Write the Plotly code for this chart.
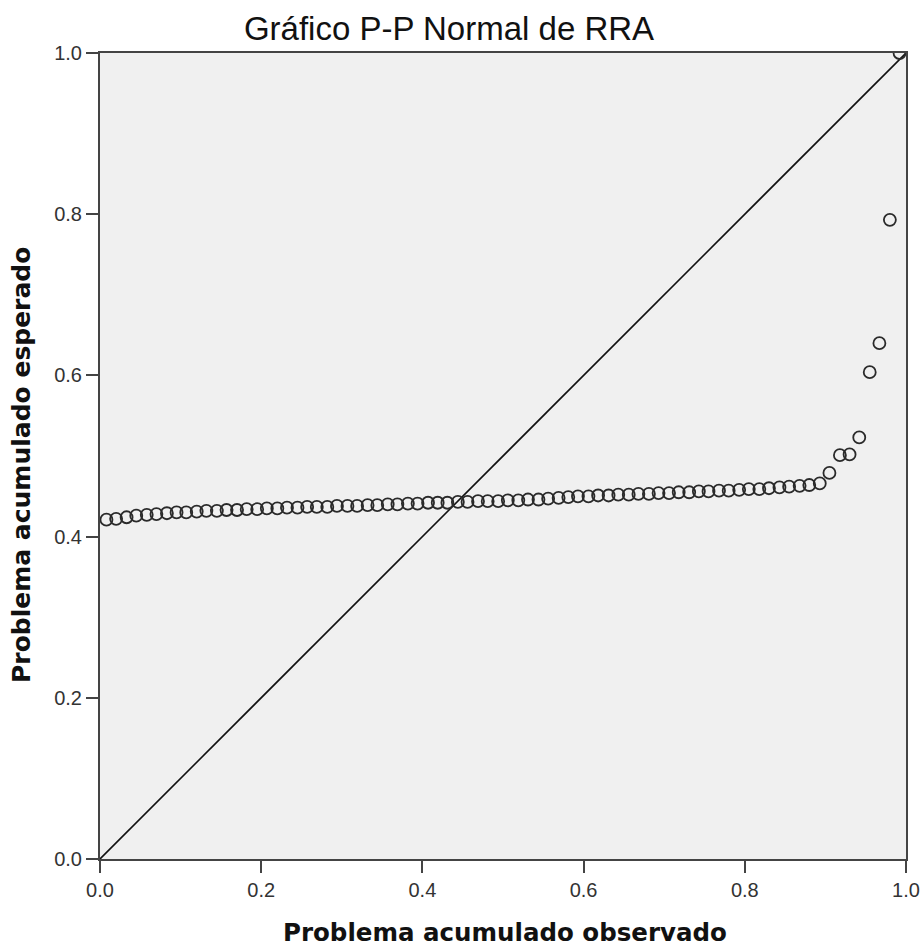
import plotly.graph_objects as go

# Observed cumulative probability (x) and expected cumulative probability (y)
observed = [0.008, 0.020, 0.033, 0.045, 0.058, 0.070, 0.083, 0.095, 0.107, 0.120,
            0.132, 0.145, 0.157, 0.170, 0.182, 0.195, 0.207, 0.220, 0.232, 0.245,
            0.257, 0.269, 0.282, 0.294, 0.307, 0.319, 0.332, 0.344, 0.357, 0.369,
            0.382, 0.394, 0.407, 0.419, 0.431, 0.444, 0.456, 0.469, 0.481, 0.494,
            0.506, 0.519, 0.531, 0.544, 0.556, 0.569, 0.581, 0.593, 0.606, 0.618,
            0.631, 0.643, 0.656, 0.668, 0.681, 0.693, 0.706, 0.718, 0.731, 0.743,
            0.755, 0.768, 0.780, 0.793, 0.805, 0.818, 0.830, 0.843, 0.855, 0.868,
            0.880, 0.893, 0.905, 0.918, 0.930, 0.942, 0.955, 0.967, 0.980, 0.992]
expected = [0.421, 0.422, 0.424, 0.426, 0.427, 0.428, 0.429, 0.430, 0.430, 0.431,
            0.432, 0.432, 0.433, 0.433, 0.434, 0.434, 0.435, 0.435, 0.436, 0.436,
            0.437, 0.437, 0.437, 0.438, 0.438, 0.438, 0.439, 0.439, 0.440, 0.440,
            0.441, 0.441, 0.442, 0.442, 0.442, 0.443, 0.443, 0.444, 0.444, 0.444,
            0.445, 0.445, 0.446, 0.446, 0.447, 0.448, 0.449, 0.450, 0.450, 0.451,
            0.451, 0.452, 0.452, 0.453, 0.453, 0.454, 0.454, 0.455, 0.455, 0.456,
            0.456, 0.457, 0.457, 0.458, 0.459, 0.459, 0.460, 0.461, 0.462, 0.463,
            0.464, 0.466, 0.479, 0.501, 0.502, 0.523, 0.604, 0.640, 0.793, 1.000]
diag_x = [0.0, 1.0]
diag_y = [0.0, 1.0]
tick_vals = [0.0, 0.2, 0.4, 0.6, 0.8, 1.0]
tick_text = ["0.0", "0.2", "0.4", "0.6", "0.8", "1.0"]

TITLE = "Gráfico P-P Normal de RRA"
XTITLE = "Problema acumulado observado"
YTITLE = "Problema acumulado esperado"

W, H = 923, 949
L, R, T, B = 100, 17, 53, 90
PW = W - L - R
PH = H - T - B

fig = go.Figure()
fig.add_trace(go.Scatter(x=diag_x, y=diag_y, mode="lines",
                         line=dict(color="#111111", width=1.6),
                         hoverinfo="skip", showlegend=False))
fig.add_trace(go.Scatter(x=observed, y=expected, mode="markers",
                         marker=dict(symbol="circle-open", size=12,
                                     color="#2a2a2a", line=dict(width=1.8, color="#2a2a2a")),
                         showlegend=False))

axis_common = dict(range=[0, 1], tickvals=tick_vals, ticktext=tick_text,
                   showgrid=False, zeroline=False, showline=True, mirror=True,
                   linecolor="#444444", linewidth=2, ticks="outside", ticklen=12,
                   tickcolor="#444444", tickwidth=1.5, ticklabeloverflow="allow",
                   automargin=False,
                   tickfont=dict(family="Liberation Sans, Arial", size=20, color="#333333"))

fig.update_layout(
    width=W, height=H,
    margin=dict(l=L, r=R, t=T, b=B, autoexpand=False),
    paper_bgcolor="white", plot_bgcolor="#F0F0F0",
    title=dict(text=TITLE, x=(449 - L) / PW, xref="paper", xanchor="center",
               y=1 - 28 / H, yanchor="middle",
               font=dict(family="Liberation Sans, Arial", size=33, color="#111111")),
    xaxis=dict(**axis_common),
    yaxis=dict(**axis_common),
    annotations=[
        dict(text="<b>" + XTITLE + "</b>", xref="paper", yref="paper",
             x=(505 - L) / PW, y=(H - B - 932) / PH, xanchor="center", yanchor="middle",
             showarrow=False,
             font=dict(family="DejaVu Sans", size=24.5, color="#111111")),
        dict(text="<b>" + YTITLE + "</b>", xref="paper", yref="paper",
             x=(22 - L) / PW, y=(H - B - 465) / PH, xanchor="center", yanchor="middle",
             textangle=-90, showarrow=False,
             font=dict(family="DejaVu Sans", size=25, color="#111111")),
    ],
)

fig.write_html("out.html", config={"displayModeBar": False},
               post_script="document.body.style.margin='0px';")
